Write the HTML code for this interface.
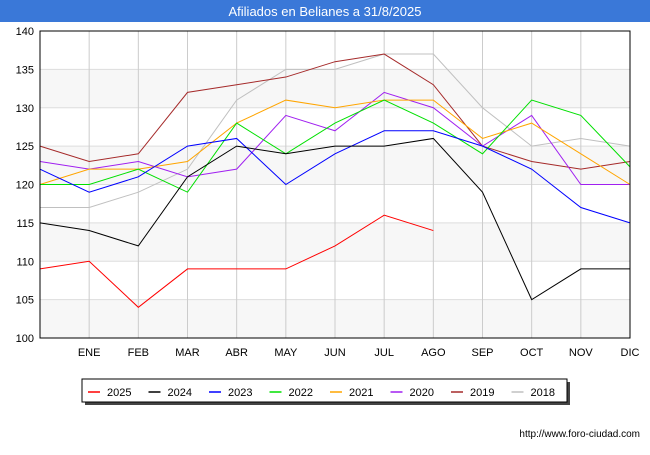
<!DOCTYPE html>
<html><head><meta charset="utf-8"><style>
body{margin:0;width:650px;height:450px;background:#fff;font-family:"Liberation Sans",sans-serif;overflow:hidden}
</style></head><body>
<svg id="c" width="650" height="450" xmlns="http://www.w3.org/2000/svg" font-family="Liberation Sans, sans-serif">
<rect x="0" y="0" width="650" height="22" fill="#3a78d8"/>
<text x="325" y="16" fill="#fff" font-size="13" text-anchor="middle">Afiliados en Belianes a 31/8/2025</text>
<g id="bands"></g><g id="grid"></g><g id="series"></g><g id="axes"></g>
<rect x="40" y="31" width="590" height="307" fill="none" stroke="#000" stroke-width="1"/>
<g id="legend"></g>
<text x="640" y="437" font-size="10" text-anchor="end" fill="#000">http://www.foro-ciudad.com</text>
</svg>
<script>
const months=["","ENE","FEB","MAR","ABR","MAY","JUN","JUL","AGO","SEP","OCT","NOV","DIC"];
const yTicks=[100,105,110,115,120,125,130,135,140];
const seriesNames=["2025","2024","2023","2022","2021","2020","2019","2018"];
const colors=["#ff0000","#000000","#0000ff","#00e000","#ffa500","#a020f0","#a52a2a","#c0c0c0"];
const s2025=[109,110,104,109,109,109,112,116,114];
const s2024=[115,114,112,121,125,124,125,125,126,119,105,109,109];
const s2023=[122,119,121,125,126,120,124,127,127,125,122,117,115];
const s2022=[120,120,122,119,128,124,128,131,128,124,131,129,122.3];
const s2021=[120,122,122,123,128,131,130,131,131,126,128,124,120];
const s2020=[123,122,123,121,122,129,127,132,130,125,129,120,120];
const s2019=[125,123,124,132,133,134,136,137,133,125,123,122,123];
const s2018=[117,117,119,122,131,135,135,137,137,130,125,126,125];
const allSeries=[s2025,s2024,s2023,s2022,s2021,s2020,s2019,s2018];
const NS="http://www.w3.org/2000/svg";
const X=i=>40+i*(590/12), Y=v=>338-(v-100)*(307/40);
function mk(t,a,p){const e=document.createElementNS(NS,t);for(const k in a)e.setAttribute(k,a[k]);p.appendChild(e);return e;}
const bands=document.getElementById('bands'),grid=document.getElementById('grid'),ser=document.getElementById('series'),ax=document.getElementById('axes'),leg=document.getElementById('legend');
for(let v=100;v<140;v+=10){const r=mk('rect',{x:40,y:Y(v+5),width:590,height:Y(v)-Y(v+5),fill:'#f7f7f7'},bands);

}
yTicks.forEach(v=>{const l=mk('line',{x1:40,x2:630,y1:Y(v),y2:Y(v),stroke:'#ddd'},grid);


const t=mk('text',{x:34,y:Y(v)+4,'font-size':11,'text-anchor':'end'},ax);t.textContent=v;

});
months.forEach((m,i)=>{if(i>0){const l=mk('line',{x1:X(i),x2:X(i),y1:31,y2:338,stroke:'#ccc'},grid);

}
const t=mk('text',{x:X(i),y:356,'font-size':11,'text-anchor':'middle'},ax);t.textContent=m;

});
for(let k=allSeries.length-1;k>=0;k--){const d=allSeries[k];
const p=mk('polyline',{points:d.map((v,i)=>X(i)+','+Y(v)).join(' '),fill:'none',stroke:colors[k],'stroke-width':1},ser);

}
const sh=mk('rect',{x:85,y:382,width:485,height:23,fill:'#444'},leg);


const bx=mk('rect',{x:82,y:379,width:485,height:23,fill:'#fff',stroke:'#000'},leg);


seriesNames.forEach((n,k)=>{const x0=88+k*60.5;
const l=mk('line',{x1:x0,x2:x0+12,y1:392,y2:392,stroke:colors[k],'stroke-width':1.5},leg);


const t=mk('text',{x:x0+19,y:396,'font-size':11},leg);t.textContent=n;

});
</script>
</body></html>
